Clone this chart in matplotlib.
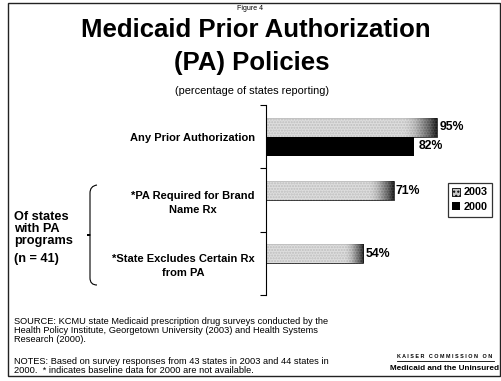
import matplotlib.pyplot as plt
import numpy as np
from matplotlib.patches import Rectangle, PathPatch
from matplotlib.path import Path

plt.rcParams["font.family"] = ["Liberation Sans", "DejaVu Sans"]

categories = [
    "Any Prior Authorization",
    "*PA Required for Brand\nName Rx",
    "*State Excludes Certain Rx\nfrom PA",
]
values_2003 = [95, 71, 54]
values_2000 = [82, None, None]
value_labels_2003 = ["95%", "71%", "54%"]
value_labels_2000 = ["82%", None, None]

W, H = 501, 381


def px(x, y):
    """Pixel position (from top-left) to figure fraction."""
    return x / W, 1 - y / H


fig = plt.figure(figsize=(W / 100, H / 100), dpi=100)

# outer frame
fig.patches.append(Rectangle(px(8, 376), 492 / W, 373 / H, transform=fig.transFigure,
                             fill=False, edgecolor="#222222", linewidth=1.0))

fig.text(*px(250, 9), "Figure 4", ha="center", va="center", fontsize=5)
fig.text(*px(256, 30), "Medicaid Prior Authorization", ha="center", va="center",
         fontsize=18.5, fontweight="bold")
fig.text(*px(252, 63), "(PA) Policies", ha="center", va="center",
         fontsize=18.5, fontweight="bold")
fig.text(*px(252, 91), "(percentage of states reporting)", ha="center", va="center",
         fontsize=7.9)

x0, y0 = px(266, 295)
ax = fig.add_axes([x0, y0, 180 / W, 190 / H])

y = np.arange(len(categories))
bar_h = 0.3
light = "#c8c8c8"

for i, v in enumerate(values_2003):
    yc = y[i] - bar_h / 2
    bar = ax.barh(yc, v, height=bar_h, color=light, edgecolor="#2a2a2a",
                  linewidth=0.6, hatch="......", zorder=2)[0]
    # darken the end of the bar
    grad = np.linspace(0, 1, 200)
    shade = np.clip((grad - 0.8) / 0.2, 0, 1) ** 1.5
    img = ax.imshow(shade[np.newaxis, :], cmap="Greys", vmin=-0.25, vmax=1.05,
                    extent=(0, v, yc + bar_h / 2, yc - bar_h / 2),
                    aspect="auto", alpha=0.8, zorder=2.5)
    img.set_clip_path(bar)
    ax.text(v + 1.2, yc, value_labels_2003[i], va="center", ha="left",
            fontsize=8.8, fontweight="bold")

for i, v in enumerate(values_2000):
    if v is None:
        continue
    yc = y[i] + bar_h / 2
    ax.barh(yc, v, height=bar_h, color="black", zorder=2)
    ax.text(v + 3, yc, value_labels_2000[i], va="center", ha="left",
            fontsize=8.8, fontweight="bold")

ax.set_xlim(0, 100)
ax.set_ylim(2.5, -0.5)
ax.set_yticks(y, categories, fontsize=8, fontweight="bold", multialignment="center",
              linespacing=1.5)
ax.set_yticks([-0.5, 0.5, 1.5, 2.5], minor=True)
ax.tick_params(axis="y", which="major", length=0, pad=8)
ax.tick_params(axis="y", which="minor", length=4, width=0.8)
ax.set_xticks([])
for side in ["top", "right", "bottom"]:
    ax.spines[side].set_visible(False)
ax.spines["left"].set_linewidth(0.8)

handles = [Rectangle((0, 0), 1, 1, facecolor=light, edgecolor="black", linewidth=0.6, hatch="...."),
           Rectangle((0, 0), 1, 1, facecolor="black")]
leg = fig.legend(handles, ["2003", "2000"], loc="upper left", bbox_to_anchor=px(448, 183),
                 bbox_transform=fig.transFigure, prop={"size": 7.8, "weight": "bold"},
                 frameon=True, fancybox=False, edgecolor="black", handlelength=0.75,
                 handleheight=0.75, handletextpad=0.3, borderpad=0.4, labelspacing=0.45,
                 borderaxespad=0)
leg.get_frame().set_linewidth(0.9)

# group note with brace
fig.text(*px(14, 229), "Of states\nwith PA\nprograms", ha="left", va="center",
         fontsize=9.2, fontweight="bold", linespacing=1.0)
fig.text(*px(14, 259), "(n = 41)", ha="left", va="center", fontsize=9.2, fontweight="bold")

brace_pts = [(97, 185), (90, 186), (90, 193), (90, 193),
             (90, 228), (90, 228), (90, 235), (84, 235),
             (90, 235), (90, 242), (90, 242), (90, 278),
             (90, 285), (97, 285)]
brace_pts = [px(a, b) for a, b in brace_pts]
codes = [Path.MOVETO, Path.CURVE3, Path.CURVE3, Path.LINETO,
         Path.LINETO, Path.CURVE3, Path.CURVE3, Path.CURVE3,
         Path.CURVE3, Path.CURVE3, Path.LINETO, Path.LINETO,
         Path.CURVE3, Path.CURVE3]
fig.patches.append(PathPatch(Path(brace_pts, codes), transform=fig.transFigure,
                             fill=False, edgecolor="black", linewidth=0.8))

fig.text(*px(14, 317),
         "SOURCE: KCMU state Medicaid prescription drug surveys conducted by the\n"
         "Health Policy Institute, Georgetown University (2003) and Health Systems\n"
         "Research (2000).",
         ha="left", va="top", fontsize=6.7, linespacing=0.98)
fig.text(*px(14, 357),
         "NOTES: Based on survey responses from 43 states in 2003 and 44 states in\n"
         "2000.  * indicates baseline data for 2000 are not available.",
         ha="left", va="top", fontsize=6.7, linespacing=0.98)

fig.text(*px(445, 357), "K A I S E R   C O M M I S S I O N   O N", ha="center",
         va="center", fontsize=3.9, fontweight="bold")
fig.lines.append(plt.Line2D([397 / W, 494 / W], [1 - 361 / H] * 2,
                            transform=fig.transFigure, color="black", linewidth=0.6))
fig.text(*px(444, 369), "Medicaid and the Uninsured", ha="center", va="center",
         fontsize=5.9, fontweight="heavy")

fig.savefig("out.png", dpi=100)
